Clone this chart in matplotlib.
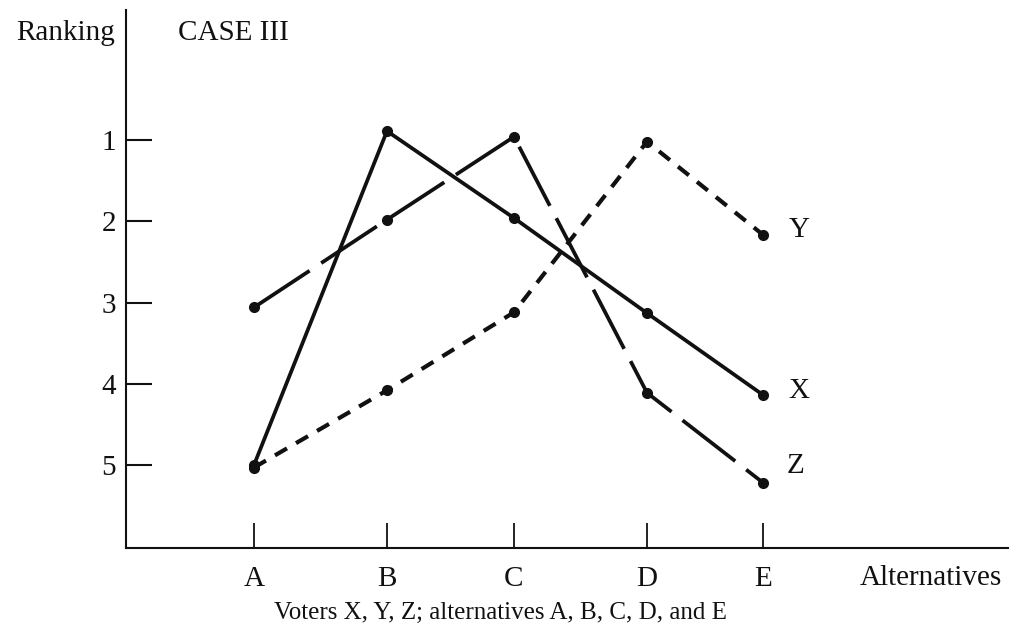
import matplotlib
matplotlib.use("Agg")
import matplotlib.pyplot as plt

# ---- data ----
alternatives = ["A", "B", "C", "D", "E"]
voter_X = [5.0, 0.89, 1.96, 3.13, 4.14]
voter_Y = [5.03, 4.08, 3.12, 1.02, 2.17]
voter_Z = [3.06, 1.98, 0.96, 4.11, 5.22]
rank_ticks = [1, 2, 3, 4, 5]
title_text = "CASE III"
caption = "Voters X, Y, Z; alternatives A, B, C, D, and E"

# layout (positions of alternatives along the axis, as drawn)
x_pos = [0.0, 1.0, 1.955, 2.955, 3.83]

plt.rcParams['lines.scale_dashes'] = False
serif = ['Liberation Serif', 'DejaVu Serif']
plt.rcParams['font.family'] = serif

W, H = 1012, 628
fig = plt.figure(figsize=(W / 100, H / 100), dpi=100)
fig.patch.set_facecolor('white')

ax_l, ax_r, ax_b, ax_t = 126, 1008, 548, 10
ax = fig.add_axes([ax_l / W, (H - ax_b) / H, (ax_r - ax_l) / W, (ax_b - ax_t) / H])
ax.set_facecolor('white')
ax.set_xlim(-0.962, 5.669)
ax.set_ylim(6.02, -0.6)

ink = '#111111'
lw = 2.7
ax.plot(x_pos, voter_X, color=ink, lw=lw, linestyle='-', marker='o', ms=7,
        solid_capstyle='round', zorder=3)
ax.plot(x_pos, voter_Y, color=ink, lw=3.0, linestyle=(0, (10, 7.5)), marker='o', ms=7,
        dash_capstyle='butt', zorder=3)
ax.plot(x_pos, voter_Z, color=ink, lw=lw, linestyle=(0, (48, 10)), marker='o', ms=7,
        dash_capstyle='butt', zorder=3)

fs = 21
ax.annotate("Y", xy=(x_pos[-1], voter_Y[-1]), xytext=(18, 4), textcoords='offset points',
            ha='left', va='center', fontsize=fs, color=ink)
ax.annotate("X", xy=(x_pos[-1], voter_X[-1]), xytext=(18, 3), textcoords='offset points',
            ha='left', va='center', fontsize=fs, color=ink)
ax.annotate("Z", xy=(x_pos[-1], voter_Z[-1]), xytext=(17, 12), textcoords='offset points',
            ha='left', va='center', fontsize=fs, color=ink)

for s in ['top', 'right']:
    ax.spines[s].set_visible(False)
for s in ['left', 'bottom']:
    ax.spines[s].set_linewidth(1.5)
    ax.spines[s].set_color(ink)

ax.set_yticks(rank_ticks)
ax.set_yticklabels([str(r) for r in rank_ticks])
ax.set_xticks(x_pos)
ax.set_xticklabels(alternatives)
ax.tick_params(axis='y', direction='in', length=19, width=1.5, pad=7,
               labelsize=fs, colors=ink)
ax.tick_params(axis='x', direction='in', length=18, width=1.3, pad=13,
               labelsize=fs, colors=ink)

fig.text(115 / W, 1 - 33 / H, "Ranking", ha='right', va='center', fontsize=fs, color=ink)
fig.text(178 / W, 1 - 33 / H, title_text, ha='left', va='center', fontsize=fs, color=ink)
fig.text(1002 / W, 1 - 578 / H, "Alternatives", ha='right', va='center', fontsize=fs, color=ink)
fig.text(500 / W, 1 - 613 / H, caption, ha='center', va='center', fontsize=18, color=ink)

fig.savefig("out.png", dpi=100, facecolor='white')
